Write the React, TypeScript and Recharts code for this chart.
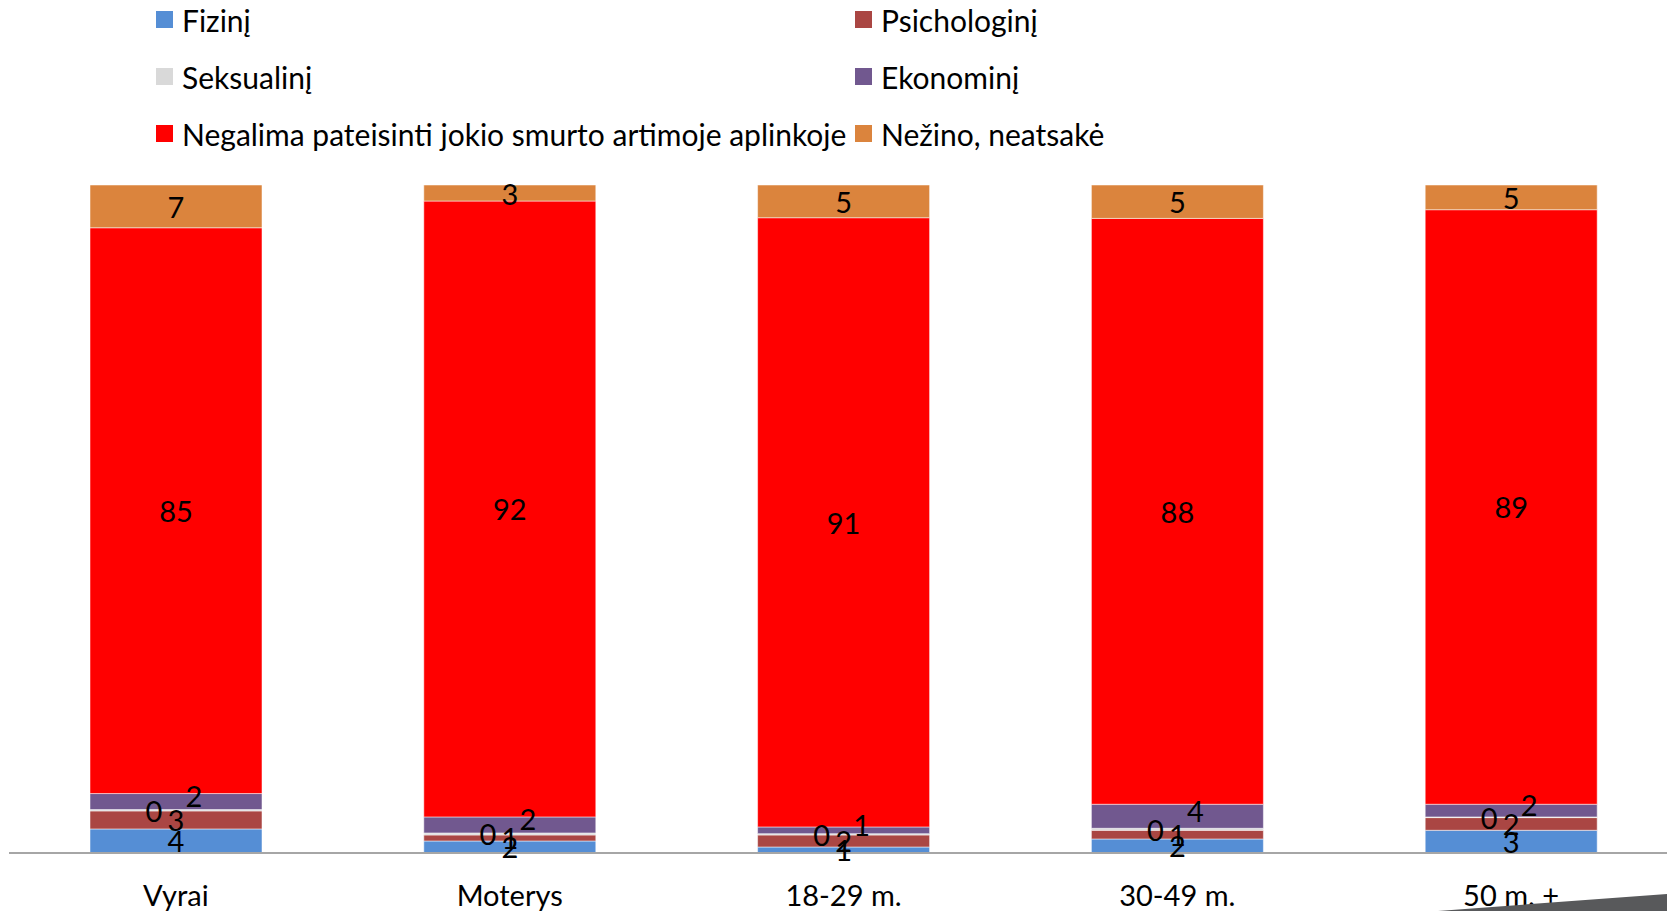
import { BarChart, Bar, XAxis, YAxis, LabelList } from "recharts";

const categories = ["Vyrai", "Moterys", "18-29 m.", "30-49 m.", "50 m. +"];

const fizini = [3.6, 1.8, 0.9, 2.1, 3.4];
const psichologini = [2.7, 0.9, 1.8, 1.3, 1.9];
const seksualini = [0.2, 0.3, 0.2, 0.3, 0.1];
const ekonomini = [2.4, 2.4, 1.0, 3.6, 1.9];
const negalima = [84.7, 92.2, 91.2, 87.7, 89.0];
const nezino = [6.8, 2.6, 5.1, 5.0, 5.1];

const series = [
  { key: "fizini", name: "Fizinį", color: "#558ed5", values: fizini },
  { key: "psichologini", name: "Psichologinį", color: "#aa4643", values: psichologini },
  { key: "seksualini", name: "Seksualinį", color: "#d9d9d9", values: seksualini },
  { key: "ekonomini", name: "Ekonominį", color: "#71588f", values: ekonomini },
  { key: "negalima", name: "Negalima pateisinti jokio smurto artimoje aplinkoje", color: "#ff0000", values: negalima },
  { key: "nezino", name: "Nežino, neatsakė", color: "#db843d", values: nezino },
];

const data = categories.map((name, i) => {
  const row: Record<string, string | number> = { name };
  series.forEach((s) => {
    row[s.key] = s.values[i];
  });
  return row;
});

const FONT = "Lato, 'Open Sans', sans-serif";

// small nudges so the tiny segments' labels don't sit on top of each other
const labelShift: Record<string, [number, number]> = {
  seksualini: [-22, 0],
  ekonomini: [18, -6],
};

function makeLabel(key: string) {
  return (props: any) => {
    const { x, y, width, height, value } = props;
    const [dx, dy] = labelShift[key] || [0, 0];
    return (
      <text
        x={x + width / 2 + dx}
        y={y + height / 2 + dy}
        textAnchor="middle"
        dominantBaseline="central"
        fontSize={29}
        fontFamily={FONT}
        fill="#000"
      >
        {Math.round(value)}
      </text>
    );
  };
}

function Legend() {
  return (
    <div
      style={{
        position: "absolute",
        left: 156,
        top: -9,
        display: "grid",
        gridTemplateColumns: "699px auto",
        fontFamily: FONT,
        fontSize: 30,
        lineHeight: "36px",
        color: "#000",
      }}
    >
      {series.map((s) => (
        <div
          key={s.key}
          style={{ display: "flex", alignItems: "center", height: 57 }}
        >
          <span
            style={{
              width: 17,
              height: 17,
              background: s.color,
              marginRight: 9,
              flexShrink: 0,
            }}
          />
          <span style={{ whiteSpace: "nowrap" }}>{s.name}</span>
        </div>
      ))}
    </div>
  );
}

export default function App() {
  return (
    <div
      style={{
        position: "fixed",
        left: 0,
        top: 0,
        width: 1667,
        height: 911,
        overflow: "hidden",
        background: "#fff",
      }}
    >
      <Legend />
      <BarChart
        width={1690}
        height={911}
        data={data}
        margin={{ top: 185, right: 12, left: 9, bottom: 28 }}
        barSize={172}
      >
        <XAxis
          dataKey="name"
          height={30}
          axisLine={{ stroke: "#a6a6a6", strokeWidth: 2 }}
          tickLine={false}
          tickMargin={26}
          tick={{ fill: "#000", fontSize: 29, fontFamily: FONT }}
          interval={0}
        />
        <YAxis hide domain={[0, 100]} allowDataOverflow />
        {series.map((s) => (
          <Bar
            key={s.key}
            dataKey={s.key}
            name={s.name}
            stackId="a"
            fill={s.color}
            stroke="#ffffff"
            strokeOpacity={0.5}
            strokeWidth={1}
            isAnimationActive={false}
          >
            <LabelList dataKey={s.key} content={makeLabel(s.key)} />
          </Bar>
        ))}
      </BarChart>
      <div
        style={{
          position: "absolute",
          left: 1438,
          top: 891,
          width: 229,
          height: 20,
          background: "#58595b",
          clipPath: "polygon(0% 100%, 100% 15%, 100% 100%)",
        }}
      />
    </div>
  );
}
